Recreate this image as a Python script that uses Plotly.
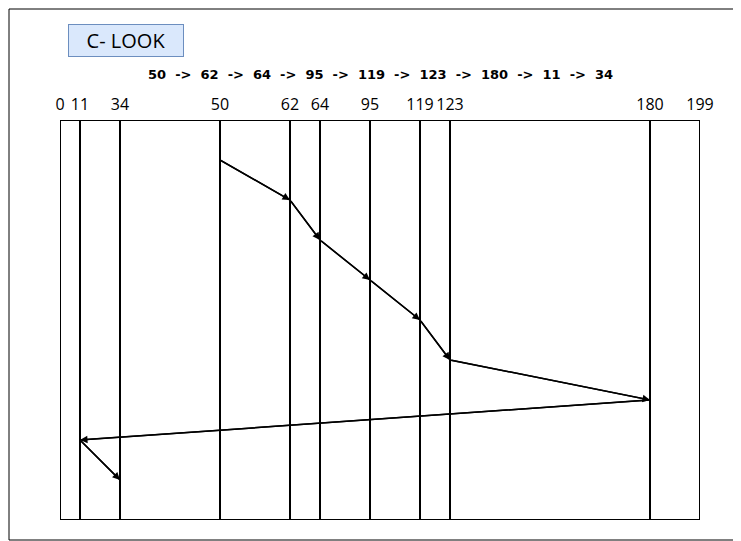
import plotly.graph_objects as go

# cylinders shown on the axis, and where each column sits along the strip
cylinders = [0, 11, 34, 50, 62, 64, 95, 119, 123, 180, 199]
column_pos = [60, 80, 120, 220, 290, 320, 370, 420, 450, 650, 700]
# service order of the head
sequence = [50, 62, 64, 95, 119, 123, 180, 11, 34]

pos = dict(zip(cylinders, column_pos))
step_y = [160 + 40 * i for i in range(len(sequence))]


def px(x):
    return (x - 60) / 640


def py(y):
    return (520 - y) / 400


fig = go.Figure()
fig.add_trace(go.Scatter(x=[pos[c] for c in sequence], y=step_y, mode="lines",
                         line=dict(color="black", width=1.5), hoverinfo="skip"))

for c in cylinders:
    fig.add_shape(type="line", x0=pos[c], x1=pos[c], y0=120, y1=520,
                  line=dict(color="black", width=2))
fig.add_shape(type="rect", x0=60, x1=700, y0=120, y1=520, line=dict(color="black", width=2))

for i in range(1, len(sequence)):
    fig.add_annotation(x=pos[sequence[i]], y=step_y[i], ax=pos[sequence[i - 1]], ay=step_y[i - 1],
                       xref="x", yref="y", axref="x", ayref="y", text="", showarrow=True,
                       arrowhead=2, arrowsize=1, arrowwidth=1.5, arrowcolor="black")

fig.add_annotation(x=px(380), y=py(65), xref="paper", yref="paper", showarrow=False,
                   text="  ->  ".join(str(s) for s in sequence),
                   font=dict(family="DejaVu Sans", size=13, color="black", weight="bold"))
fig.add_annotation(x=px(68), y=py(24), xref="paper", yref="paper", showarrow=False, text="C- LOOK",
                   font=dict(family="Open Sans", size=20, color="black"),
                   bgcolor="#dae8fc", bordercolor="#6c8ebf", borderwidth=1, borderpad=2, width=110)
# outer frame
fig.add_shape(type="rect", xref="paper", yref="paper", x0=px(9), x1=px(740), y0=py(9), y1=py(540),
              line=dict(color="black", width=1))

fig.update_xaxes(range=[60, 700], tickvals=column_pos, ticktext=[str(c) for c in cylinders],
                 side="top", showgrid=False, zeroline=False, ticks="", ticklabelstandoff=6,
                 tickfont=dict(family="Open Sans", size=16, color="black"), fixedrange=True)
fig.update_yaxes(range=[520, 120], visible=False, showgrid=False, fixedrange=True)
fig.update_layout(width=741, height=541, margin=dict(l=52, r=49, t=112, b=29),
                  plot_bgcolor="white", paper_bgcolor="white", showlegend=False)
fig.write_html("out.html")
